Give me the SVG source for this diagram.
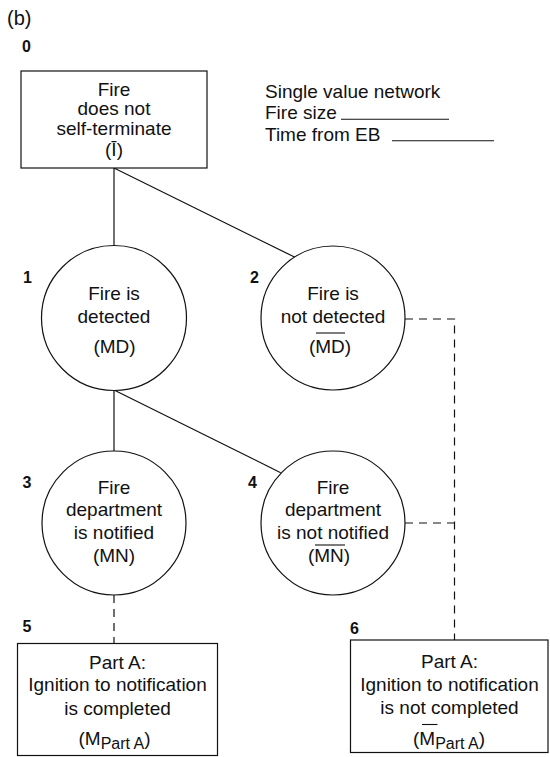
<svg xmlns="http://www.w3.org/2000/svg" width="550" height="757" viewBox="0 0 550 757">
  <style>
    .shape { fill: #fff; stroke: #111; stroke-width: 1.2; }
    .edge { fill: none; stroke: #111; stroke-width: 1.2; }
    .dash { fill: none; stroke: #111; stroke-width: 1.2; stroke-dasharray: 8 6; }
    .bar { stroke: #111; stroke-width: 1.1; }
    text { font-family: "Liberation Sans", Arial, sans-serif; fill: #111; }
    .t { font-size: 19px; text-anchor: middle; }
    .legend { font-size: 19px; }
    .num { font-size: 16px; font-weight: bold; }
    .sub { font-size: 16px; }
  </style>

  <text x="7" y="25" style="font-size:20px">(b)</text>

  <!-- connectors -->
  <g id="connectors">
    <line class="edge" x1="114" y1="168" x2="114" y2="245.5"/>
    <line class="edge" x1="114" y1="168" x2="295" y2="257.3"/>
    <line class="edge" x1="114" y1="390" x2="114" y2="451"/>
    <line class="edge" x1="114" y1="390" x2="280.7" y2="472.7"/>
    <path class="dash" d="M405,319 H454.5 V640"/>
    <line class="dash" x1="405" y1="523" x2="454.5" y2="523"/>
    <line class="dash" x1="114" y1="595" x2="114" y2="643.5"/>
  </g>

  <!-- legend -->
  <g id="legend">
    <text class="legend" x="265" y="97.5">Single value network</text>
    <text class="legend" x="265" y="118.5">Fire size</text>
    <line class="bar" x1="341" y1="119.3" x2="449" y2="119.3"/>
    <text class="legend" x="265" y="141">Time from EB</text>
    <line class="bar" x1="392" y1="140.7" x2="494" y2="140.7"/>
  </g>

  <g id="node0">
    <rect class="shape" x="21" y="71" width="186" height="97"/>
    <text class="num" x="22" y="52">0</text>
    <text class="t" x="114" y="95.5">Fire</text>
    <text class="t" x="114" y="115">does not</text>
    <text class="t" x="114" y="135">self-terminate</text>
    <text class="t" x="114" y="156">(Ī)</text>
  </g>

  <g id="node1">
    <circle class="shape" cx="114" cy="318" r="72.5"/>
    <text class="num" x="23" y="283">1</text>
    <text class="t" x="114" y="299.5">Fire is</text>
    <text class="t" x="114" y="322.5">detected</text>
    <text class="t" x="114.5" y="352.5">(MD)</text>
  </g>

  <g id="node2">
    <circle class="shape" cx="333" cy="318" r="72"/>
    <text class="num" x="250" y="283">2</text>
    <text class="t" x="333" y="299.5">Fire is</text>
    <text class="t" x="333" y="322.5">not detected</text>
    <text class="t" x="330" y="352.5">(MD)</text>
    <line class="bar" x1="316" y1="333" x2="345" y2="333"/>
  </g>

  <g id="node3">
    <circle class="shape" cx="114" cy="523" r="72"/>
    <text class="num" x="22.5" y="488">3</text>
    <text class="t" x="114" y="493.5">Fire</text>
    <text class="t" x="114" y="516">department</text>
    <text class="t" x="114" y="538.5">is notified</text>
    <text class="t" x="114" y="561.5">(MN)</text>
  </g>

  <g id="node4">
    <circle class="shape" cx="333" cy="523" r="72"/>
    <text class="num" x="248" y="488">4</text>
    <text class="t" x="333" y="493.5">Fire</text>
    <text class="t" x="333" y="516">department</text>
    <text class="t" x="333" y="538.5">is not notified</text>
    <text class="t" x="329" y="561.5">(MN)</text>
    <line class="bar" x1="315" y1="545" x2="345" y2="545"/>
  </g>

  <g id="node5">
    <rect class="shape" x="17.5" y="643.5" width="200" height="112"/>
    <text class="num" x="22.5" y="632">5</text>
    <text class="t" x="117.5" y="668.5">Part A:</text>
    <text class="t" x="117.5" y="691">Ignition to notification</text>
    <text class="t" x="117.5" y="714.5">is completed</text>
    <text class="t" x="114.5" y="745">(M<tspan class="sub" dy="3.5">Part A</tspan><tspan dy="-3.5">)</tspan></text>
  </g>

  <g id="node6">
    <rect class="shape" x="350.5" y="640" width="197.5" height="112.5"/>
    <text class="num" x="350" y="634">6</text>
    <text class="t" x="449.5" y="668">Part A:</text>
    <text class="t" x="449.5" y="691">Ignition to notification</text>
    <text class="t" x="449.5" y="714">is not completed</text>
    <text class="t" x="449" y="745">(M<tspan class="sub" dy="3.5">Part A</tspan><tspan dy="-3.5">)</tspan></text>
    <line class="bar" x1="422" y1="724.5" x2="437.5" y2="724.5"/>
  </g>
</svg>
